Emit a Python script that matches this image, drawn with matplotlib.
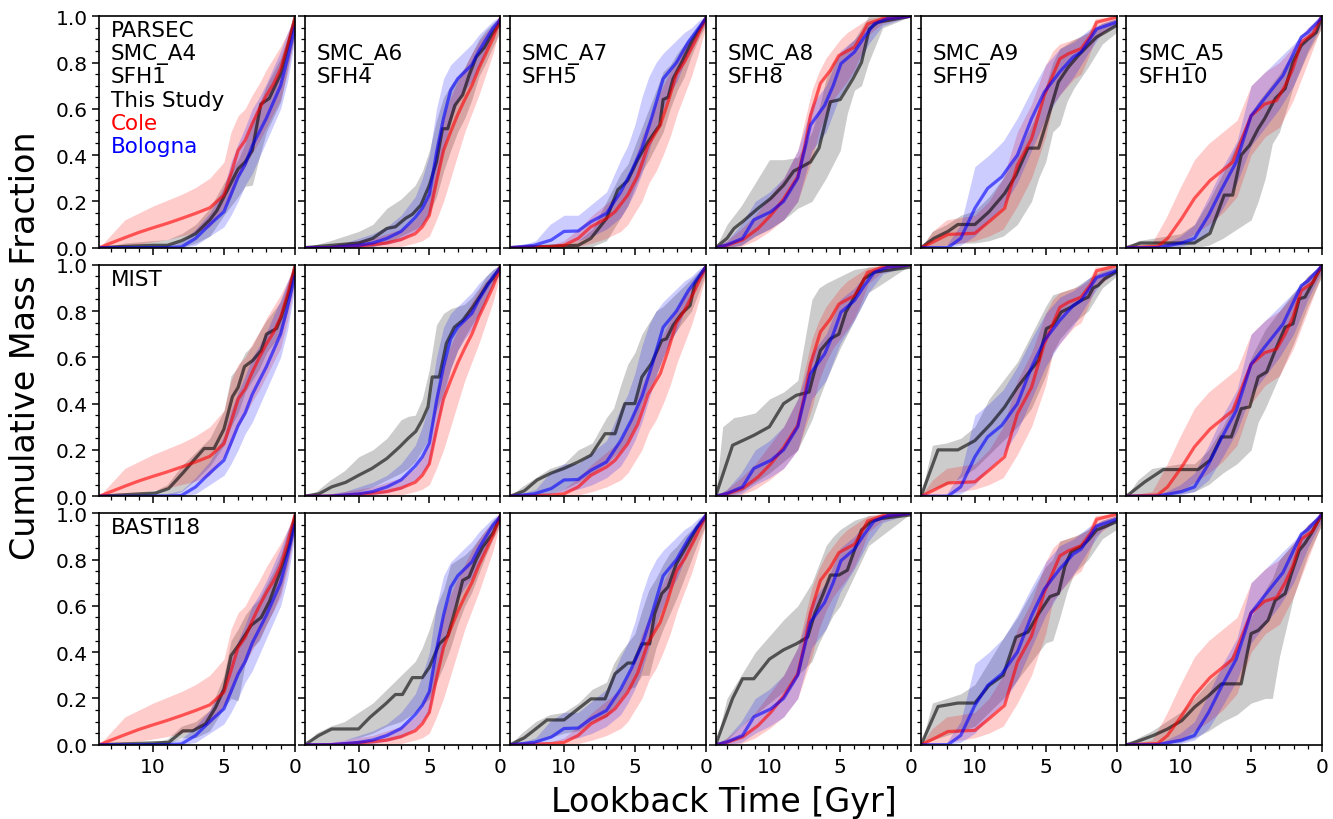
import matplotlib.pyplot as plt
from matplotlib.ticker import MultipleLocator

# ---- field / SFH labels ----
fields = ["SMC_A4", "SMC_A6", "SMC_A7", "SMC_A8", "SMC_A9", "SMC_A5"]
sfh_names = ["SFH1", "SFH4", "SFH5", "SFH8", "SFH9", "SFH10"]
isochrones = ["PARSEC", "MIST", "BASTI18"]

# ---- Cole (red), median ages / values, band ages / lo / hi ----
a4_cole_t = [13.8, 12, 11, 10, 9, 8, 7, 6, 5, 4.5, 4, 3.5, 3, 2.5, 2, 1.5, 1, 0.5, 0]
a4_cole = [0, 0.043, 0.066, 0.086, 0.105, 0.126, 0.148, 0.172, 0.227, 0.32, 0.42, 0.464, 0.536, 0.6, 0.658, 0.708, 0.773, 0.874, 0.99]
a4_cole_bt = a4_cole_t
a4_cole_lo = [0, 0.01, 0.015, 0.025, 0.035, 0.05, 0.065, 0.09, 0.17, 0.22, 0.3, 0.35, 0.41, 0.46, 0.52, 0.58, 0.64, 0.76, 0.92]
a4_cole_hi = [0, 0.12, 0.15, 0.18, 0.205, 0.23, 0.26, 0.3, 0.37, 0.5, 0.57, 0.6, 0.66, 0.71, 0.77, 0.82, 0.87, 0.93, 1.0]

a6_cole_t = [13.8, 12, 11, 10, 9, 8, 7, 6, 5.5, 5, 4.5, 4, 3.5, 3, 2.5, 2, 1.5, 1, 0.5, 0]
a6_cole = [0, 0, 0.003, 0.008, 0.013, 0.02, 0.035, 0.06, 0.09, 0.14, 0.285, 0.42, 0.5, 0.575, 0.64, 0.7, 0.776, 0.84, 0.906, 0.99]
a6_cole_bt = a6_cole_t
a6_cole_lo = [0, 0, 0, 0, 0, 0, 0.005, 0.02, 0.03, 0.05, 0.12, 0.2, 0.3, 0.4, 0.5, 0.58, 0.66, 0.75, 0.84, 0.96]
a6_cole_hi = [0, 0.01, 0.02, 0.03, 0.04, 0.06, 0.08, 0.12, 0.17, 0.25, 0.45, 0.57, 0.65, 0.72, 0.78, 0.84, 0.89, 0.93, 0.96, 1]

a7_cole_t = [13.8, 10.9, 10, 9.0, 8.1, 7.0, 6.4, 5.5, 4.8, 4.07, 3.2, 2.65, 2.06, 1.47, 0.76, 0]
a7_cole = [0, 0.005, 0.01, 0.04, 0.09, 0.126, 0.155, 0.227, 0.31, 0.44, 0.53, 0.63, 0.75, 0.805, 0.89, 0.99]
a7_cole_bt = [13.8, 12, 11, 10, 9, 8, 7, 6, 5.5, 5, 4.5, 4, 3.5, 3, 2.5, 2, 1.5, 1, 0.5, 0]
a7_cole_lo = [0, 0, 0, 0, 0.005, 0.02, 0.04, 0.07, 0.1, 0.15, 0.2, 0.28, 0.33, 0.4, 0.48, 0.58, 0.66, 0.74, 0.84, 0.95]
a7_cole_hi = [0, 0.005, 0.01, 0.03, 0.08, 0.14, 0.19, 0.24, 0.3, 0.38, 0.48, 0.55, 0.63, 0.7, 0.76, 0.82, 0.87, 0.91, 0.95, 1]

a8_cole_t = [13.8, 13, 11.9, 10.8, 9.9, 9.0, 8.0, 7.5, 7.1, 6.4, 5.7, 5.1, 4.5, 4.0, 3.5, 3.07, 2, 0]
a8_cole = [0, 0.01, 0.033, 0.083, 0.14, 0.21, 0.306, 0.44, 0.57, 0.71, 0.766, 0.83, 0.85, 0.866, 0.917, 0.967, 0.99, 1.0]
a8_cole_bt = [13.8, 13, 12, 11, 10, 9, 8, 7, 6.5, 6, 5.5, 5, 4.5, 4, 3.5, 3, 2, 0]
a8_cole_lo = [0, 0, 0.005, 0.03, 0.07, 0.12, 0.2, 0.38, 0.5, 0.58, 0.64, 0.68, 0.72, 0.77, 0.84, 0.92, 0.97, 1]
a8_cole_hi = [0, 0.03, 0.08, 0.14, 0.22, 0.3, 0.42, 0.68, 0.76, 0.82, 0.86, 0.9, 0.93, 0.95, 0.97, 0.99, 1, 1]

a9_cole_t = [13.8, 12.9, 11.9, 10, 9.0, 7.9, 7.0, 6.0, 5.1, 4.0, 3.4, 2.5, 1.8, 1.4, 0]
a9_cole = [0, 0.026, 0.057, 0.062, 0.112, 0.17, 0.356, 0.47, 0.658, 0.816, 0.838, 0.86, 0.917, 0.974, 0.996]
a9_cole_bt = [13.8, 13, 12, 11, 10, 9, 8, 7, 6, 5, 4.5, 4, 3, 2.5, 2, 1.5, 0]
a9_cole_lo = [0, 0.005, 0.01, 0.02, 0.03, 0.05, 0.08, 0.18, 0.3, 0.48, 0.62, 0.66, 0.73, 0.75, 0.82, 0.9, 0.97]
a9_cole_hi = [0, 0.07, 0.12, 0.13, 0.14, 0.2, 0.3, 0.5, 0.62, 0.79, 0.85, 0.88, 0.9, 0.91, 0.93, 0.99, 1]

a5_cole_t = [13.8, 11.6, 10.9, 9.9, 9.0, 7.9, 7.1, 6.3, 5.0, 4.05, 3.2, 2.6, 2.05, 1.46, 0.64, 0]
a5_cole = [0, 0.005, 0.04, 0.126, 0.213, 0.29, 0.33, 0.37, 0.57, 0.62, 0.636, 0.7, 0.773, 0.888, 0.924, 1.0]
a5_cole_bt = [13.8, 12, 11, 10, 9, 8, 7, 6, 5, 4, 3, 2, 1, 0]
a5_cole_lo = [0, 0, 0.005, 0.02, 0.06, 0.1, 0.15, 0.22, 0.4, 0.48, 0.52, 0.64, 0.8, 0.96]
a5_cole_hi = [0, 0.02, 0.13, 0.26, 0.38, 0.45, 0.5, 0.55, 0.7, 0.76, 0.8, 0.87, 0.95, 1]

# ---- Bologna (blue) ----
a4_bol_t = [13.8, 12, 11, 10, 9, 8, 7, 6, 5, 4.5, 4, 3.5, 3, 2.5, 2, 1.5, 1, 0.5, 0]
a4_bol = [0, 0, 0, 0, 0, 0.003, 0.04, 0.1, 0.155, 0.23, 0.305, 0.36, 0.44, 0.5, 0.56, 0.63, 0.70, 0.82, 0.95]
a4_bol_bt = a4_bol_t
a4_bol_lo = [0, 0, 0, 0, 0, 0, 0.01, 0.05, 0.09, 0.14, 0.2, 0.27, 0.32, 0.39, 0.46, 0.53, 0.6, 0.72, 0.9]
a4_bol_hi = [0, 0, 0.005, 0.01, 0.012, 0.025, 0.08, 0.15, 0.26, 0.37, 0.45, 0.52, 0.6, 0.65, 0.71, 0.78, 0.85, 0.93, 1.0]

a6_bol_t = [13.8, 12, 11, 10, 9, 8, 7, 6, 5.5, 5, 4.5, 4, 3.5, 3, 2.5, 2, 1.5, 1, 0.5, 0]
a6_bol = [0, 0, 0.005, 0.01, 0.02, 0.04, 0.07, 0.13, 0.17, 0.23, 0.41, 0.56, 0.68, 0.73, 0.76, 0.79, 0.85, 0.9, 0.95, 0.985]
a6_bol_bt = a6_bol_t
a6_bol_lo = [0, 0, 0, 0, 0.005, 0.015, 0.03, 0.07, 0.1, 0.14, 0.28, 0.42, 0.55, 0.63, 0.68, 0.72, 0.78, 0.85, 0.92, 0.96]
a6_bol_hi = [0, 0.01, 0.02, 0.04, 0.06, 0.09, 0.14, 0.22, 0.3, 0.4, 0.6, 0.73, 0.79, 0.82, 0.85, 0.88, 0.92, 0.95, 0.98, 1]

a7_bol_t = [13.8, 12.1, 10.9, 10, 9.0, 8.1, 7.0, 6.0, 5.25, 4.5, 3.83, 3.0, 2.06, 1.23, 0]
a7_bol = [0, 0.01, 0.033, 0.07, 0.072, 0.112, 0.148, 0.24, 0.328, 0.43, 0.557, 0.73, 0.8, 0.888, 0.99]
a7_bol_bt = [13.8, 13, 12, 11, 10, 9, 8, 7, 6, 5.5, 5, 4.5, 4, 3.5, 3, 2.5, 2, 1.5, 1, 0.5, 0]
a7_bol_lo = [0, 0, 0, 0.01, 0.02, 0.03, 0.05, 0.08, 0.13, 0.18, 0.24, 0.32, 0.42, 0.52, 0.6, 0.67, 0.72, 0.8, 0.86, 0.92, 0.97]
a7_bol_hi = [0, 0.01, 0.03, 0.1, 0.14, 0.14, 0.19, 0.24, 0.38, 0.44, 0.53, 0.65, 0.74, 0.8, 0.84, 0.87, 0.9, 0.93, 0.95, 0.98, 1]

a8_bol_t = [13.8, 13, 11.9, 11.1, 9.9, 9.0, 8.0, 7.1, 6.1, 5.5, 4.95, 4.0, 3.3, 2.6, 1.65, 0]
a8_bol = [0, 0.012, 0.04, 0.12, 0.155, 0.2, 0.3, 0.53, 0.615, 0.7, 0.795, 0.845, 0.91, 0.967, 0.99, 1.0]
a8_bol_bt = [13.8, 13, 12, 11, 10, 9, 8, 7, 6, 5, 4, 3, 2, 0]
a8_bol_lo = [0, 0, 0.01, 0.05, 0.08, 0.12, 0.2, 0.42, 0.5, 0.66, 0.76, 0.88, 0.96, 1]
a8_bol_hi = [0, 0.03, 0.1, 0.2, 0.24, 0.3, 0.42, 0.62, 0.7, 0.85, 0.9, 0.97, 0.995, 1]

a9_bol_t = [13.8, 11.9, 11.0, 10, 9.1, 8.1, 7.0, 6.0, 5.1, 4.0, 3.07, 2.5, 1.4, 0]
a9_bol = [0, 0, 0.04, 0.17, 0.256, 0.306, 0.4, 0.557, 0.672, 0.76, 0.823, 0.845, 0.945, 0.974]
a9_bol_bt = [13.8, 12, 11, 10, 9, 8, 7, 6, 5, 4, 3, 2, 1, 0]
a9_bol_lo = [0, 0, 0.01, 0.05, 0.12, 0.18, 0.28, 0.42, 0.56, 0.66, 0.74, 0.84, 0.93, 0.96]
a9_bol_hi = [0, 0.01, 0.1, 0.35, 0.4, 0.46, 0.56, 0.68, 0.79, 0.86, 0.89, 0.94, 0.97, 0.99]

a5_bol_t = [13.8, 11.6, 9.9, 9.0, 8.0, 7.1, 6.05, 5.0, 4.05, 2.75, 1.46, 1.0, 0]
a5_bol = [0, 0, 0.02, 0.04, 0.14, 0.25, 0.37, 0.57, 0.644, 0.744, 0.91, 0.93, 0.996]
a5_bol_bt = [13.8, 12, 11, 10, 9, 8, 7, 6, 5, 4, 3, 2, 1, 0]
a5_bol_lo = [0, 0, 0, 0.005, 0.02, 0.07, 0.17, 0.28, 0.44, 0.52, 0.6, 0.7, 0.85, 0.97]
a5_bol_hi = [0, 0.005, 0.02, 0.05, 0.1, 0.22, 0.35, 0.46, 0.7, 0.76, 0.82, 0.88, 0.95, 1]

# ---- This Study (black), one per isochrone set ----
grid = [13.8, 13, 12, 11, 10, 9, 8, 7, 6.5, 6, 5.5, 5, 4.5, 4, 3.5, 3, 2.5, 2, 1.5, 1, 0.5, 0]

# PARSEC
p_a4_t = [13.8, 12, 10, 9, 8, 7, 6, 5.5, 5, 4.5, 4, 3.5, 3, 2.7, 2.4, 1.8, 1, 0.4, 0]
p_a4 = [0, 0.005, 0.01, 0.01, 0.03, 0.06, 0.12, 0.16, 0.22, 0.28, 0.34, 0.37, 0.42, 0.52, 0.62, 0.645, 0.75, 0.89, 0.99]
p_a4_bt = [13.8, 12, 10, 9, 8, 7, 6, 5, 4, 3.5, 3, 2.5, 2, 1, 0]
p_a4_lo = [0, 0, 0, 0, 0, 0.02, 0.05, 0.14, 0.22, 0.265, 0.27, 0.39, 0.5, 0.63, 0.92]
p_a4_hi = [0, 0.02, 0.03, 0.035, 0.06, 0.1, 0.17, 0.28, 0.38, 0.45, 0.55, 0.62, 0.7, 0.82, 1.0]

p_a6_t = [13.8, 11.9, 10, 9, 8, 7.4, 6.7, 6.2, 5.6, 5, 4.5, 4.07, 3.7, 3.2, 2.65, 2.2, 1.7, 1.1, 0.64, 0]
p_a6 = [0, 0.01, 0.02, 0.04, 0.083, 0.09, 0.126, 0.144, 0.184, 0.27, 0.37, 0.514, 0.514, 0.615, 0.66, 0.744, 0.823, 0.866, 0.917, 0.974]
p_a6_bt = [13.8, 12, 11, 10, 9, 8, 7, 6, 5.5, 5, 4.5, 4, 3.5, 3, 2.5, 2, 1.5, 1, 0.5, 0]
p_a6_lo = [0, 0, 0, 0, 0.005, 0.02, 0.05, 0.08, 0.1, 0.15, 0.22, 0.33, 0.42, 0.5, 0.56, 0.64, 0.74, 0.8, 0.87, 0.93]
p_a6_hi = [0, 0.03, 0.05, 0.07, 0.1, 0.17, 0.21, 0.27, 0.33, 0.42, 0.55, 0.65, 0.7, 0.74, 0.78, 0.84, 0.9, 0.94, 0.97, 1]

p_a7_t = [13.8, 9.0, 8.1, 7.0, 6.2, 5.5, 4.8, 4.07, 3.24, 3.0, 2.65, 2.3, 1.7, 1.0, 0]
p_a7 = [0, 0.01, 0.04, 0.126, 0.25, 0.29, 0.38, 0.457, 0.53, 0.64, 0.65, 0.73, 0.8, 0.888, 0.99]
p_a7_bt = [13.8, 12, 11, 10, 9, 8, 7, 6, 5.5, 5, 4.5, 4, 3.5, 3, 2.5, 2, 1.5, 1, 0.5, 0]
p_a7_lo = [0, 0, 0, 0, 0, 0.005, 0.03, 0.13, 0.18, 0.26, 0.33, 0.38, 0.44, 0.5, 0.6, 0.68, 0.74, 0.83, 0.9, 0.96]
p_a7_hi = [0, 0.005, 0.01, 0.02, 0.03, 0.08, 0.2, 0.32, 0.36, 0.44, 0.52, 0.6, 0.68, 0.76, 0.79, 0.84, 0.88, 0.92, 0.96, 1]

p_a8_t = [13.8, 13, 12.5, 11.9, 10.8, 9.9, 9.0, 8.3, 7.1, 6.5, 5.7, 5.0, 4.1, 3.5, 2.95, 2.35, 0]
p_a8 = [0, 0.04, 0.083, 0.112, 0.17, 0.213, 0.27, 0.33, 0.37, 0.43, 0.63, 0.64, 0.73, 0.8, 0.945, 0.974, 1.0]
p_a8_bt = [13.8, 13, 12, 11, 10, 9, 8, 7, 6.5, 6, 5.5, 5, 4.5, 4, 3.5, 3, 2, 0]
p_a8_lo = [0, 0, 0.01, 0.05, 0.08, 0.12, 0.17, 0.2, 0.25, 0.3, 0.36, 0.42, 0.58, 0.68, 0.7, 0.8, 0.95, 1]
p_a8_hi = [0, 0.1, 0.18, 0.28, 0.38, 0.38, 0.39, 0.5, 0.6, 0.73, 0.8, 0.84, 0.87, 0.9, 0.95, 1.0, 1, 1]

p_a9_t = [13.8, 12.9, 11.9, 11.2, 10, 9.0, 7.9, 7.1, 6.25, 5.5, 4.8, 4.1, 3.4, 2.7, 2.0, 1.4, 0.83, 0]
p_a9 = [0, 0.04, 0.07, 0.1, 0.1, 0.155, 0.234, 0.313, 0.43, 0.43, 0.57, 0.716, 0.78, 0.83, 0.874, 0.91, 0.93, 0.96]
p_a9_bt = [13.8, 13, 12, 11, 10, 9, 8, 7, 6, 5.5, 5, 4.5, 4, 3.5, 3, 2, 1, 0]
p_a9_lo = [0, 0.005, 0.01, 0.02, 0.02, 0.03, 0.05, 0.1, 0.2, 0.3, 0.37, 0.5, 0.53, 0.63, 0.69, 0.78, 0.88, 0.93]
p_a9_hi = [0, 0.07, 0.1, 0.14, 0.16, 0.22, 0.3, 0.4, 0.53, 0.6, 0.7, 0.8, 0.86, 0.88, 0.9, 0.93, 0.97, 0.99]

p_a5_t = [13.8, 12.8, 9.0, 7.9, 6.9, 6.3, 5.7, 5.1, 4.5, 4.05, 3.3, 2.6, 2.05, 1.46, 1.0, 0.4, 0]
p_a5 = [0, 0.02, 0.02, 0.062, 0.227, 0.227, 0.4, 0.443, 0.514, 0.557, 0.644, 0.687, 0.8, 0.874, 0.9, 0.93, 1.0]
p_a5_bt = [13.8, 13, 12, 11, 10, 9, 8, 7, 6, 5, 4.5, 4, 3.5, 3, 2.5, 2, 1, 0]
p_a5_lo = [0, 0, 0, 0, 0, 0, 0.01, 0.04, 0.08, 0.12, 0.2, 0.3, 0.45, 0.5, 0.6, 0.7, 0.84, 0.95]
p_a5_hi = [0, 0.03, 0.04, 0.05, 0.06, 0.1, 0.2, 0.32, 0.45, 0.58, 0.63, 0.67, 0.71, 0.75, 0.8, 0.84, 0.92, 1]

# MIST
m_a4_t = [13.8, 9.8, 8.9, 7.9, 7.2, 6.4, 5.7, 5.0, 4.4, 4.0, 3.55, 2.96, 2.37, 2.0, 1.3, 0.95, 0.36, 0]
m_a4 = [0, 0.014, 0.033, 0.1, 0.15, 0.206, 0.206, 0.29, 0.43, 0.47, 0.56, 0.587, 0.63, 0.70, 0.724, 0.774, 0.89, 0.99]
m_a4_bt = [13.8, 10, 9, 8, 7, 6, 5, 4.5, 4, 3.5, 3, 2.5, 2, 1.5, 1, 0.5, 0]
m_a4_lo = [0, 0, 0, 0.02, 0.07, 0.13, 0.22, 0.3, 0.36, 0.45, 0.5, 0.55, 0.62, 0.66, 0.7, 0.8, 0.94]
m_a4_hi = [0, 0.02, 0.05, 0.13, 0.19, 0.25, 0.37, 0.52, 0.56, 0.62, 0.65, 0.71, 0.76, 0.8, 0.84, 0.92, 1]

m_a6_t = [13.8, 12.8, 11.9, 10.9, 10, 9.05, 8, 7.1, 6.5, 5.96, 5.5, 5.1, 4.8, 4.3, 3.8, 3.24, 2.65, 1.94, 1.47, 0.87, 0.52, 0]
m_a6 = [0, 0.01, 0.04, 0.06, 0.09, 0.12, 0.163, 0.213, 0.25, 0.28, 0.33, 0.386, 0.515, 0.515, 0.66, 0.73, 0.76, 0.817, 0.86, 0.918, 0.94, 0.99]
m_a6_bt = grid
m_a6_lo = [0, 0, 0.005, 0.01, 0.02, 0.04, 0.07, 0.1, 0.12, 0.15, 0.2, 0.25, 0.37, 0.45, 0.55, 0.63, 0.69, 0.74, 0.79, 0.85, 0.92, 0.96]
m_a6_hi = [0, 0.02, 0.07, 0.11, 0.17, 0.2, 0.25, 0.33, 0.345, 0.35, 0.42, 0.55, 0.74, 0.79, 0.81, 0.82, 0.83, 0.86, 0.9, 0.95, 0.98, 1]

m_a7_t = [13.8, 12.8, 11.9, 10.9, 10, 9.0, 8.1, 7.1, 6.4, 5.7, 5.0, 4.5, 3.83, 3.1, 2.77, 2.3, 1.7, 1.1, 0.76, 0]
m_a7 = [0, 0.023, 0.07, 0.1, 0.12, 0.148, 0.177, 0.27, 0.27, 0.4, 0.4, 0.515, 0.573, 0.673, 0.68, 0.738, 0.788, 0.824, 0.918, 0.99]
m_a7_bt = grid
m_a7_lo = [0, 0, 0.005, 0.01, 0.03, 0.06, 0.1, 0.14, 0.17, 0.2, 0.24, 0.3, 0.4, 0.47, 0.52, 0.6, 0.67, 0.72, 0.76, 0.8, 0.88, 0.96]
m_a7_hi = [0, 0.04, 0.08, 0.12, 0.14, 0.2, 0.23, 0.34, 0.38, 0.48, 0.57, 0.62, 0.7, 0.75, 0.8, 0.82, 0.85, 0.88, 0.91, 0.94, 0.97, 1]

m_a8_t = [13.8, 12.6, 11.1, 10.0, 9.0, 8.1, 7.2, 6.8, 6.4, 5.7, 5.1, 4.6, 4.0, 3.3, 2.6, 0]
m_a8 = [0, 0.22, 0.263, 0.3, 0.4, 0.436, 0.45, 0.544, 0.63, 0.68, 0.7, 0.796, 0.86, 0.94, 0.968, 0.99]
m_a8_bt = [13.8, 13.3, 12.5, 12, 11, 10, 9, 8, 7, 6.5, 6, 5, 4, 3, 0]
m_a8_lo = [0, 0, 0.01, 0.02, 0.06, 0.1, 0.15, 0.2, 0.33, 0.42, 0.5, 0.64, 0.76, 0.88, 1]
m_a8_hi = [0, 0.3, 0.34, 0.345, 0.36, 0.42, 0.45, 0.5, 0.85, 0.9, 0.92, 0.95, 0.98, 0.99, 1]

m_a9_t = [13.8, 12.6, 11.2, 10, 8.85, 7.9, 7.0, 6.25, 5.5, 4.95, 4.5, 3.9, 3.2, 2.5, 2.0, 1.65, 1.3, 0.83, 0]
m_a9 = [0, 0.2, 0.2, 0.24, 0.314, 0.385, 0.47, 0.53, 0.587, 0.724, 0.738, 0.796, 0.817, 0.846, 0.86, 0.9, 0.91, 0.94, 0.97]
m_a9_bt = [13.8, 13, 12, 11, 10, 9, 8, 7, 6, 5, 4.5, 4, 3, 2, 1, 0]
m_a9_lo = [0, 0.03, 0.05, 0.08, 0.12, 0.18, 0.24, 0.3, 0.38, 0.52, 0.62, 0.68, 0.75, 0.8, 0.9, 0.95]
m_a9_hi = [0, 0.22, 0.23, 0.25, 0.3, 0.42, 0.5, 0.58, 0.7, 0.82, 0.87, 0.88, 0.9, 0.94, 0.98, 0.99]

m_a5_t = [13.8, 12.5, 11.2, 9.9, 8.75, 7.9, 7.1, 6.4, 5.7, 5.1, 4.5, 3.9, 3.3, 2.6, 2.05, 1.6, 1.2, 0.5, 0]
m_a5 = [0, 0.062, 0.115, 0.115, 0.115, 0.155, 0.256, 0.256, 0.378, 0.386, 0.515, 0.537, 0.63, 0.73, 0.745, 0.853, 0.86, 0.94, 0.997]
m_a5_bt = [13.8, 13, 12, 11, 10, 9, 8, 7, 6, 5, 4.5, 4, 3, 2, 1, 0]
m_a5_lo = [0, 0, 0, 0.005, 0.01, 0.02, 0.05, 0.1, 0.14, 0.2, 0.32, 0.38, 0.52, 0.66, 0.82, 0.95]
m_a5_hi = [0, 0.07, 0.12, 0.13, 0.14, 0.14, 0.2, 0.3, 0.42, 0.6, 0.66, 0.72, 0.8, 0.88, 0.95, 1]

# BASTI18
b_a4_t = [13.8, 8.9, 7.9, 7.2, 6.3, 5.6, 5.0, 4.5, 3.9, 3.08, 2.37, 1.78, 1.07, 0.36, 0]
b_a4 = [0, 0.01, 0.06, 0.06, 0.09, 0.16, 0.24, 0.385, 0.436, 0.516, 0.55, 0.62, 0.74, 0.87, 0.985]
b_a4_bt = [13.8, 10, 9, 8, 7, 6, 5, 4.5, 4, 3.5, 3, 2.5, 2, 1.5, 1, 0.5, 0]
b_a4_lo = [0, 0, 0, 0.03, 0.03, 0.06, 0.16, 0.2, 0.19, 0.35, 0.42, 0.45, 0.52, 0.58, 0.66, 0.78, 0.93]
b_a4_hi = [0, 0.01, 0.025, 0.08, 0.1, 0.15, 0.3, 0.45, 0.5, 0.56, 0.6, 0.63, 0.69, 0.75, 0.82, 0.92, 1]

b_a6_t = [13.8, 12.8, 11.9, 10.9, 10, 9.2, 8.1, 7.4, 6.9, 6.2, 5.5, 5.0, 4.3, 3.7, 3.1, 2.65, 2.2, 1.7, 1.23, 0.52, 0]
b_a6 = [0, 0.04, 0.068, 0.068, 0.068, 0.118, 0.176, 0.217, 0.217, 0.29, 0.29, 0.335, 0.436, 0.47, 0.6, 0.71, 0.725, 0.8, 0.855, 0.913, 0.985]
b_a6_bt = [13.8, 13, 12, 11, 10, 9, 8, 7, 6, 5.5, 5, 4.5, 4, 3.5, 3, 2.5, 2, 1.5, 1, 0.5, 0]
b_a6_lo = [0, 0, 0.01, 0.02, 0.03, 0.05, 0.08, 0.1, 0.14, 0.17, 0.2, 0.27, 0.34, 0.42, 0.52, 0.6, 0.66, 0.74, 0.82, 0.89, 0.95]
b_a6_hi = [0, 0.05, 0.08, 0.1, 0.14, 0.18, 0.24, 0.3, 0.36, 0.42, 0.5, 0.6, 0.67, 0.78, 0.8, 0.82, 0.85, 0.89, 0.93, 0.97, 1]

b_a7_t = [13.8, 12.8, 12, 11.2, 10, 9.0, 8.1, 7.1, 6.4, 5.5, 5.1, 4.5, 3.95, 3.6, 3.1, 2.65, 2.06, 1.23, 0.64, 0]
b_a7 = [0, 0.03, 0.068, 0.107, 0.107, 0.155, 0.198, 0.198, 0.306, 0.353, 0.353, 0.436, 0.436, 0.566, 0.653, 0.682, 0.783, 0.87, 0.935, 0.985]
b_a7_bt = grid
b_a7_lo = [0, 0, 0.01, 0.03, 0.05, 0.06, 0.1, 0.12, 0.16, 0.2, 0.24, 0.25, 0.3, 0.3, 0.42, 0.5, 0.57, 0.64, 0.72, 0.8, 0.88, 0.95]
b_a7_hi = [0, 0.05, 0.1, 0.13, 0.14, 0.18, 0.24, 0.27, 0.35, 0.4, 0.44, 0.48, 0.58, 0.67, 0.72, 0.78, 0.83, 0.86, 0.9, 0.93, 0.97, 1]

b_a8_t = [13.8, 12.6, 11.9, 11.1, 10.0, 9.0, 8.1, 7.3, 6.8, 6.2, 5.7, 5.1, 4.5, 4.0, 3.5, 2.83, 2.1, 0]
b_a8 = [0, 0.2, 0.285, 0.285, 0.37, 0.41, 0.436, 0.465, 0.566, 0.653, 0.733, 0.733, 0.754, 0.84, 0.928, 0.964, 0.978, 0.993]
b_a8_bt = [13.8, 13, 12, 11, 10, 9, 8, 7, 6.5, 6, 5.5, 5, 4, 3, 0]
b_a8_lo = [0, 0.02, 0.08, 0.13, 0.18, 0.23, 0.3, 0.36, 0.44, 0.5, 0.56, 0.6, 0.73, 0.86, 1]
b_a8_hi = [0, 0.2, 0.3, 0.4, 0.47, 0.54, 0.6, 0.7, 0.78, 0.86, 0.9, 0.93, 0.97, 0.99, 1]

b_a9_t = [13.8, 12.6, 11.2, 10, 9.0, 8.0, 7.1, 6.25, 5.5, 4.7, 4.1, 3.65, 3.2, 2.5, 2.0, 1.4, 0.83, 0]
b_a9 = [0, 0.165, 0.18, 0.18, 0.256, 0.3, 0.465, 0.487, 0.566, 0.64, 0.653, 0.77, 0.834, 0.856, 0.884, 0.928, 0.942, 0.964]
b_a9_bt = [13.8, 13, 12, 11, 10, 9, 8, 7, 6, 5, 4.5, 4, 3.5, 3, 2, 1, 0]
b_a9_lo = [0, 0.02, 0.04, 0.06, 0.08, 0.14, 0.2, 0.28, 0.36, 0.44, 0.45, 0.55, 0.66, 0.74, 0.8, 0.89, 0.93]
b_a9_hi = [0, 0.18, 0.2, 0.22, 0.26, 0.36, 0.46, 0.55, 0.66, 0.77, 0.8, 0.88, 0.89, 0.9, 0.93, 0.97, 0.99]

b_a5_t = [13.8, 13, 11.9, 10.9, 9.9, 9.0, 8.0, 7.1, 5.7, 5.0, 4.5, 3.8, 3.3, 2.6, 2.15, 1.6, 1.2, 0.75, 0]
b_a5 = [0, 0.015, 0.04, 0.068, 0.104, 0.162, 0.212, 0.263, 0.263, 0.48, 0.494, 0.538, 0.624, 0.653, 0.74, 0.84, 0.87, 0.913, 0.997]
b_a5_bt = [13.8, 13, 12, 11, 10, 9, 8, 7, 6, 5, 4, 3.5, 3, 2, 1, 0]
b_a5_lo = [0, 0, 0, 0.005, 0.01, 0.03, 0.06, 0.1, 0.13, 0.18, 0.2, 0.2, 0.38, 0.64, 0.82, 0.95]
b_a5_hi = [0, 0.03, 0.06, 0.1, 0.14, 0.2, 0.27, 0.33, 0.42, 0.55, 0.67, 0.72, 0.8, 0.87, 0.95, 1]

cole = [
    (a4_cole_t, a4_cole, a4_cole_bt, a4_cole_lo, a4_cole_hi),
    (a6_cole_t, a6_cole, a6_cole_bt, a6_cole_lo, a6_cole_hi),
    (a7_cole_t, a7_cole, a7_cole_bt, a7_cole_lo, a7_cole_hi),
    (a8_cole_t, a8_cole, a8_cole_bt, a8_cole_lo, a8_cole_hi),
    (a9_cole_t, a9_cole, a9_cole_bt, a9_cole_lo, a9_cole_hi),
    (a5_cole_t, a5_cole, a5_cole_bt, a5_cole_lo, a5_cole_hi),
]
bologna = [
    (a4_bol_t, a4_bol, a4_bol_bt, a4_bol_lo, a4_bol_hi),
    (a6_bol_t, a6_bol, a6_bol_bt, a6_bol_lo, a6_bol_hi),
    (a7_bol_t, a7_bol, a7_bol_bt, a7_bol_lo, a7_bol_hi),
    (a8_bol_t, a8_bol, a8_bol_bt, a8_bol_lo, a8_bol_hi),
    (a9_bol_t, a9_bol, a9_bol_bt, a9_bol_lo, a9_bol_hi),
    (a5_bol_t, a5_bol, a5_bol_bt, a5_bol_lo, a5_bol_hi),
]
study = [
    [(p_a4_t, p_a4, p_a4_bt, p_a4_lo, p_a4_hi),
     (p_a6_t, p_a6, p_a6_bt, p_a6_lo, p_a6_hi),
     (p_a7_t, p_a7, p_a7_bt, p_a7_lo, p_a7_hi),
     (p_a8_t, p_a8, p_a8_bt, p_a8_lo, p_a8_hi),
     (p_a9_t, p_a9, p_a9_bt, p_a9_lo, p_a9_hi),
     (p_a5_t, p_a5, p_a5_bt, p_a5_lo, p_a5_hi)],
    [(m_a4_t, m_a4, m_a4_bt, m_a4_lo, m_a4_hi),
     (m_a6_t, m_a6, m_a6_bt, m_a6_lo, m_a6_hi),
     (m_a7_t, m_a7, m_a7_bt, m_a7_lo, m_a7_hi),
     (m_a8_t, m_a8, m_a8_bt, m_a8_lo, m_a8_hi),
     (m_a9_t, m_a9, m_a9_bt, m_a9_lo, m_a9_hi),
     (m_a5_t, m_a5, m_a5_bt, m_a5_lo, m_a5_hi)],
    [(b_a4_t, b_a4, b_a4_bt, b_a4_lo, b_a4_hi),
     (b_a6_t, b_a6, b_a6_bt, b_a6_lo, b_a6_hi),
     (b_a7_t, b_a7, b_a7_bt, b_a7_lo, b_a7_hi),
     (b_a8_t, b_a8, b_a8_bt, b_a8_lo, b_a8_hi),
     (b_a9_t, b_a9, b_a9_bt, b_a9_lo, b_a9_hi),
     (b_a5_t, b_a5, b_a5_bt, b_a5_lo, b_a5_hi)],
]


def draw(ax, series, color):
    t, med, bt, lo, hi = series
    ax.fill_between(bt, lo, hi, color=color, alpha=0.2, lw=0)
    ax.plot(t, med, color=color, alpha=0.6, lw=2.3)


fig, axes = plt.subplots(3, 6, figsize=(13.33, 8.2), dpi=100, sharex=True, sharey=True)
fig.subplots_adjust(left=0.0745, right=0.9917, top=0.979, bottom=0.0906,
                    wspace=0.051, hspace=0.074)

for r in range(3):
    for c in range(6):
        ax = axes[r, c]
        draw(ax, study[r][c], "black")
        draw(ax, cole[c], "red")
        draw(ax, bologna[c], "blue")

        ax.set_xlim(13.8, 0)
        ax.set_ylim(0, 1)
        ax.xaxis.set_major_locator(MultipleLocator(5))
        ax.xaxis.set_minor_locator(MultipleLocator(1))
        ax.yaxis.set_major_locator(MultipleLocator(0.2))
        ax.yaxis.set_minor_locator(MultipleLocator(0.05))
        ax.tick_params(which="major", length=5, width=1.1, labelsize=14.5)
        ax.tick_params(which="minor", length=3, width=0.9)
        for sp in ax.spines.values():
            sp.set_linewidth(1.2)

        if r == 0:
            y0 = 0.84
            ax.text(0.06, y0, fields[c], transform=ax.transAxes, fontsize=15.5, va="center")
            ax.text(0.06, y0 - 0.1, sfh_names[c], transform=ax.transAxes, fontsize=15.5, va="center")
        if c == 0:
            ax.text(0.06, 0.94, isochrones[r], transform=ax.transAxes, fontsize=15.5, va="center")

ax0 = axes[0, 0]
for txt, y, col in [("This Study", 0.64, "black"), ("Cole", 0.54, "red"), ("Bologna", 0.44, "blue")]:
    ax0.text(0.06, y, txt, transform=ax0.transAxes, fontsize=15.5, va="center", color=col)

fig.text(0.543, 0.021, "Lookback Time [Gyr]", ha="center", va="center", fontsize=24)
fig.text(0.019, 0.579, "Cumulative Mass Fraction", ha="center", va="center",
         rotation=90, fontsize=24)

plt.savefig("out.png", dpi=100)
